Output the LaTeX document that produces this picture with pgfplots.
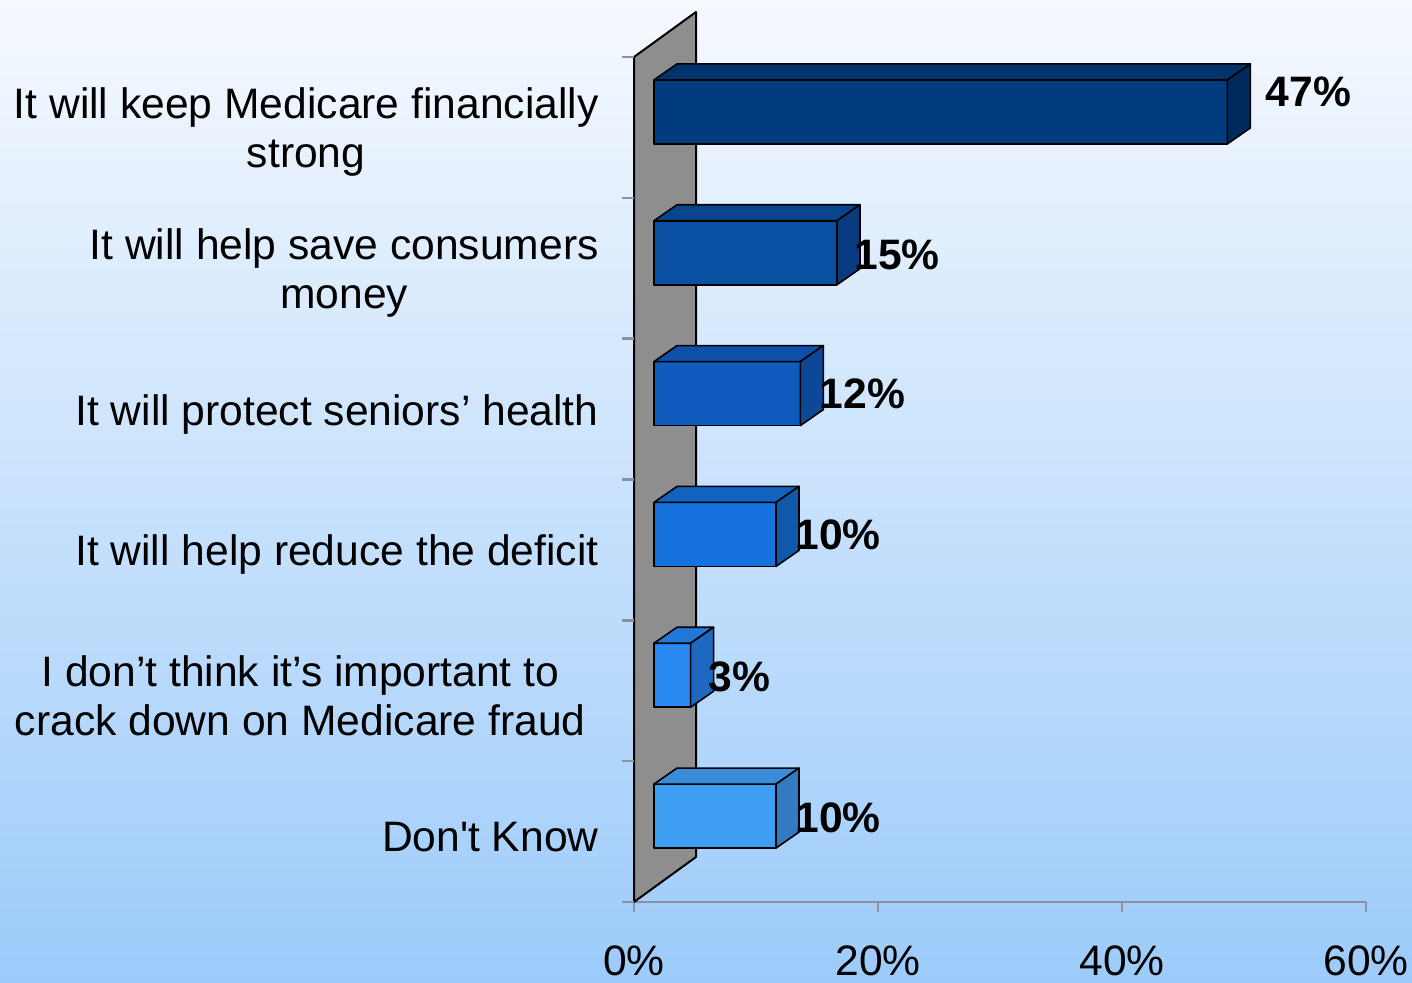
\documentclass[border=0pt]{standalone}
\usepackage{fontspec}
\setmainfont{Liberation Sans}
\newfontfamily\arial{Liberation Sans}
\usepackage{pgfplots}
\usepackage{pgfplotstable}
\pgfplotsset{compat=1.18}

\definecolor{bgtop}{RGB}{246,249,254}
\definecolor{bgbot}{RGB}{156,203,250}
\definecolor{axgray}{RGB}{140,144,160}
\definecolor{wallgray}{RGB}{142,142,142}
% front / top / side of each bar
\definecolor{bar0}{RGB}{0,60,126}   \definecolor{top0}{RGB}{0,50,108}   \definecolor{side0}{RGB}{0,42,92}
\definecolor{bar1}{RGB}{10,80,162}  \definecolor{top1}{RGB}{9,68,142}   \definecolor{side1}{RGB}{8,60,126}
\definecolor{bar2}{RGB}{16,92,190}  \definecolor{top2}{RGB}{14,80,168}  \definecolor{side2}{RGB}{12,72,150}
\definecolor{bar3}{RGB}{22,114,220} \definecolor{top3}{RGB}{18,98,192}  \definecolor{side3}{RGB}{16,88,170}
\definecolor{bar4}{RGB}{40,138,240} \definecolor{top4}{RGB}{34,120,216} \definecolor{side4}{RGB}{30,104,192}
\definecolor{bar5}{RGB}{62,158,242} \definecolor{top5}{RGB}{56,140,218} \definecolor{side5}{RGB}{50,122,194}

% y = category position (top = 5.5), v = percent, lx/ly = label offset (pt)
\pgfplotstableread{
y    v   lx    ly
5.5  47  19    10
4.5  15  8.5   -1
3.5  12  9.5   0
2.5  10  9.5   0
1.5  3   8.7   -1
0.5  10  9.5   -1
}\answers

\newcommand\lbl{\arial\fontsize{21.3}{24.5}\selectfont}

\begin{document}
\begin{tikzpicture}
\shade[top color=bgtop, bottom color=bgbot] (0,0) rectangle (706pt,491.5pt);
\begin{axis}[
  at={(317pt,40.5pt)}, anchor=south west,
  width=366pt, height=422.5pt, scale only axis,
  xmin=0, xmax=60, ymin=0, ymax=6,
  clip=false,
  axis x line*=bottom, axis y line*=left,
  x axis line style={draw=axgray, line width=1.2pt},
  y axis line style={draw=none},
  xtick={0,20,40,60},
  xticklabels={0\%,20\%,40\%,60\%},
  tick align=outside, major tick length=5pt,
  xtick style={draw=axgray, line width=1.2pt},
  xticklabel style={font=\lbl, anchor=north, inner sep=0pt, yshift=-16.5pt},
  ytick={0.5,1.5,...,5.5},
  yticklabels={
    {Don't Know},
    {I don’t think it’s important to\hspace*{6.5pt}\\crack down on Medicare fraud\hspace*{6.5pt}},
    {It will help reduce the deficit},
    {It will protect seniors’ health},
    {It will help save consumers\\money},
    {It will keep Medicare financially\\strong}},
  ytick style={draw=none},
  yticklabel style={font=\lbl, align=center, anchor=east, inner sep=0pt,
    xshift=-12.5pt, yshift=-2.5pt},
]

% back wall
\addplot[fill=wallgray, draw=black, line width=1pt, line join=round]
  coordinates {(0,0) (0,6) (5.082,6.3195) (5.082,0.3195)} -- cycle;

% small category separators on the left
\addplot[xcomb, draw=axgray, line width=1.2pt]
  coordinates {(-0.984,0) (-0.984,1) (-0.984,2) (-0.984,3) (-0.984,4) (-0.984,5) (-0.984,6)};

% 3d bars: front, top and side face of each bar, from the table values
% front face starts 1.639 units right of the wall, half height 0.2272,
% depth offset (1.885, 0.1136)
\pgfplotsinvokeforeach{0,...,5}{
  \pgfplotstablegetelem{#1}{v}\of\answers \let\v\pgfplotsretval
  \pgfplotstablegetelem{#1}{y}\of\answers \let\yy\pgfplotsretval
  \pgfmathsetmacro\xa{1.639}
  \pgfmathsetmacro\xb{1.639+\v}
  \pgfmathsetmacro\xc{\xa+1.885}
  \pgfmathsetmacro\xd{\xb+1.885}
  \pgfmathsetmacro\ya{\yy+0.11-0.2272}
  \pgfmathsetmacro\yb{\yy+0.11+0.2272}
  \pgfmathsetmacro\yc{\yb+0.1136}
  \pgfmathsetmacro\yd{\ya+0.1136}
  \addplot[fill=bar#1, draw=black, line width=0.8pt, line join=round]
    coordinates {(\xa,\ya) (\xb,\ya) (\xb,\yb) (\xa,\yb)} -- cycle;
  \addplot[fill=top#1, draw=black, line width=0.8pt, line join=round]
    coordinates {(\xa,\yb) (\xb,\yb) (\xd,\yc) (\xc,\yc)} -- cycle;
  \addplot[fill=side#1, draw=black, line width=0.8pt, line join=round]
    coordinates {(\xb,\ya) (\xd,\yd) (\xd,\yc) (\xb,\yb)} -- cycle;
}

% value labels
\addplot[
  only marks, mark=none,
  nodes near coords={\pgfplotspointmeta\%},
  point meta=explicit symbolic,
  every node near coord/.style={anchor=west, inner sep=0pt, font=\lbl\bfseries, text=black},
] table[x expr=\thisrow{v}+1.639+\thisrow{lx}/6.1,
        y expr=\thisrow{y}+0.11+\thisrow{ly}/70.4167, meta=v] {\answers};

\end{axis}
\pgfresetboundingbox
\useasboundingbox (0,0) rectangle (706pt,491.5pt);
\end{tikzpicture}
\end{document}
